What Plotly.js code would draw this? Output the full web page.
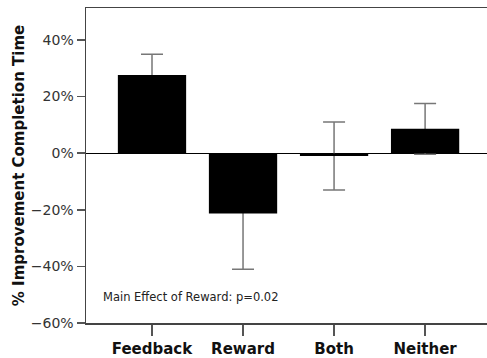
<!DOCTYPE html>
<html>
<head>
<meta charset="utf-8">
<script src="https://cdn.plot.ly/plotly-3.0.1.min.js"></script>
<style>html,body{margin:0;padding:0;background:#fff;}#chart{width:487px;height:358px;}</style>
</head>
<body>
<div id="chart"></div>
<script>
const categories = ["Feedback", "Reward", "Both", "Neither"];
const improvement = [27.6, -21.3, -1.0, 8.6];
const errorUpper = [7.4, 19.7, 12.0, 9.0];
const errorLower = [7.4, 19.7, 12.0, 9.0];
const yTickValues = [-60, -40, -20, 0, 20, 40];
const yTickLabels = ["\u221260%", "\u221240%", "\u221220%", "0%", "20%", "40%"];
const annotationText = "Main Effect of Reward: p=0.02";

const font = "DejaVu Sans, Arial, sans-serif";

// error bars drawn first (hidden bars), then solid bars on top so the whiskers disappear inside the bars
const errorTrace = {
  type: "bar",
  x: categories,
  y: improvement,
  width: 0.75,
  marker: {color: "rgba(0,0,0,0)", line: {width: 0}},
  error_y: {
    type: "data",
    symmetric: false,
    array: errorUpper,
    arrayminus: errorLower,
    color: "#777777",
    thickness: 1.5,
    width: 11
  },
  hoverinfo: "none"
};

const barTrace = {
  type: "bar",
  x: categories,
  y: improvement,
  width: 0.75,
  marker: {color: "#000000", line: {width: 0}},
  hoverinfo: "none"
};

const layout = {
  width: 487,
  height: 358,
  margin: {l: 86, r: 0, t: 8, b: 35, pad: 0},
  paper_bgcolor: "#ffffff",
  plot_bgcolor: "#ffffff",
  showlegend: false,
  barmode: "overlay",
  xaxis: {
    type: "category",
    range: [-0.725, 3.68],
    showline: true,
    linecolor: "#444444",
    linewidth: 1.5,
    mirror: true,
    ticks: "outside",
    ticklen: 11,
    tickwidth: 1.5,
    tickcolor: "#555555",
    showgrid: false,
    zeroline: false,
    tickfont: {family: font, size: 15, color: "#111111", weight: "bold"}
  },
  yaxis: {
    range: [-60, 51.3],
    tickmode: "array",
    tickvals: yTickValues,
    ticktext: yTickLabels,
    showline: true,
    linecolor: "#444444",
    linewidth: 1.5,
    ticks: "outside",
    ticklen: 8,
    tickwidth: 1.5,
    tickcolor: "#555555",
    showgrid: false,
    zeroline: true,
    zerolinecolor: "#000000",
    zerolinewidth: 1.2,
    tickfont: {family: font, size: 14, color: "#333333"},
    title: {
      text: "% Improvement Completion Time",
      font: {family: font, size: 15, color: "#111111", weight: "bold"},
      standoff: 2
    }
  },
  annotations: [{
    text: annotationText,
    xref: "paper",
    yref: "y",
    x: 0.037,
    y: -50.8,
    xanchor: "left",
    yanchor: "middle",
    showarrow: false,
    font: {family: font, size: 11.5, color: "#222222"}
  }]
};

Plotly.newPlot("chart", [errorTrace, barTrace], layout, {displayModeBar: false, staticPlot: true});
</script>
</body>
</html>
